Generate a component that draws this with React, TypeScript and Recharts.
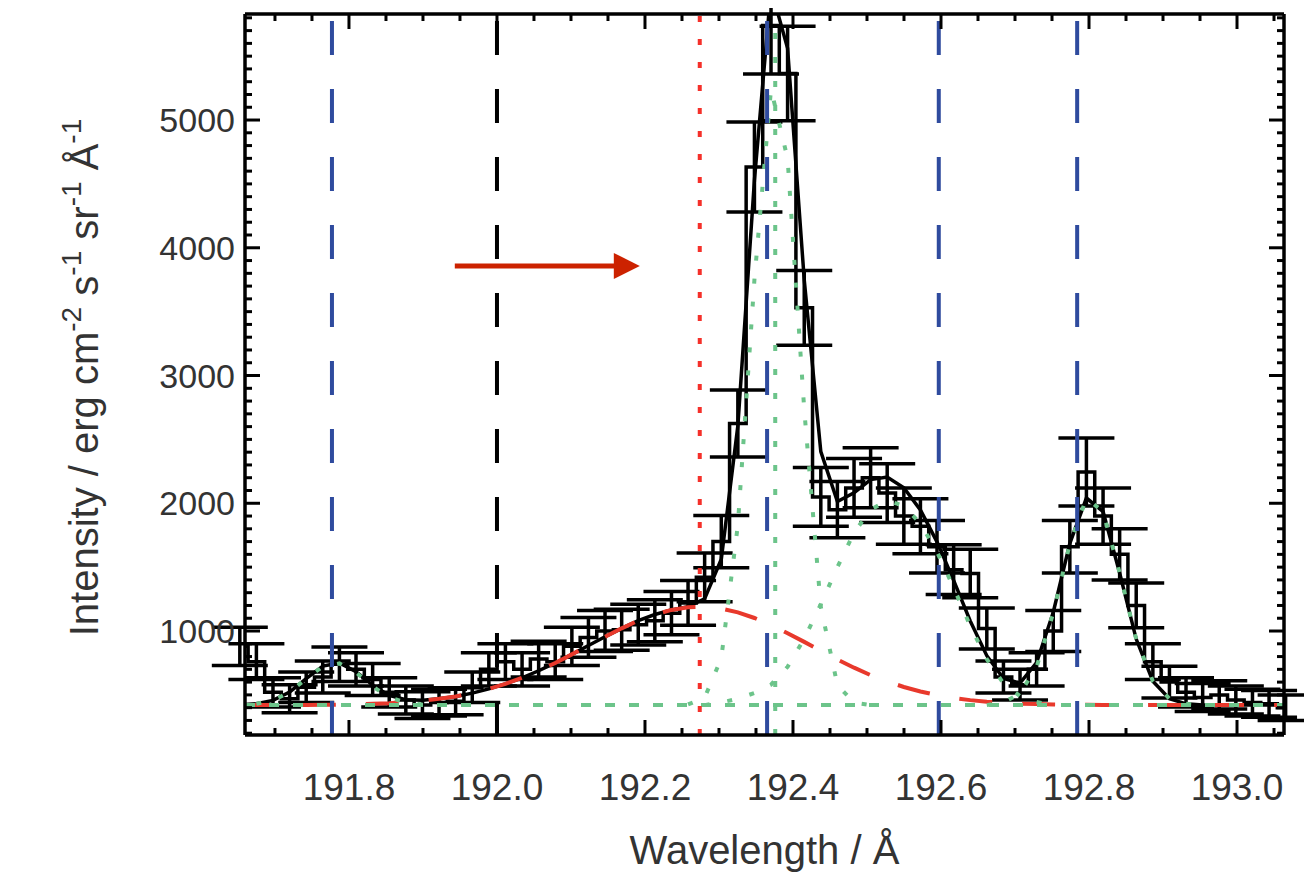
import React from "react";
import { ComposedChart, Line, XAxis, YAxis, ErrorBar, ReferenceLine } from "recharts";

// bin centres (Å)
const wavelength = [
  191.6525, 191.6749, 191.6973, 191.7198, 191.7422, 191.7646, 191.7871, 191.8095,
  191.832, 191.8544, 191.8768, 191.8993, 191.9217, 191.9441, 191.9666, 191.989,
  192.0114, 192.0339, 192.0563, 192.0787, 192.1012, 192.1236, 192.146, 192.1685,
  192.1909, 192.2133, 192.2358, 192.2582, 192.2806, 192.3031, 192.3255, 192.3479,
  192.3703, 192.3927, 192.4152, 192.4376, 192.46, 192.4825, 192.5049, 192.5273,
  192.5498, 192.5722, 192.5946, 192.6171, 192.6395, 192.6619, 192.6844, 192.7068,
  192.7292, 192.7517, 192.7741, 192.7965, 192.819, 192.8414, 192.8638, 192.8863,
  192.9087, 192.9311, 192.9536, 192.976, 192.9984, 193.0209, 193.0433, 193.0657,
];

const observed = [
  880, 760, 520, 470, 560, 640, 740, 700, 620, 520, 460, 420, 440, 450, 560, 700,
  760, 700, 780, 760, 880, 950, 1000, 1010, 1050, 1080, 1140, 1220, 1420, 1700, 2625, 4633,
  5740, 5365, 3530, 2050, 1950, 2120, 2200, 2080, 1900, 1820, 1660, 1480, 1450, 1020, 640, 580,
  700, 1000, 1660, 2245, 1900, 1600, 1200, 760, 600, 520, 480, 500, 460, 440, 430, 400,
];

const observedErr = [
  150, 140, 115, 110, 120, 125, 135, 130, 125, 115, 110, 105, 105, 105, 120, 130,
  140, 130, 140, 140, 150, 155, 160, 160, 160, 165, 170, 175, 190, 205, 262, 352,
  380, 370, 293, 230, 220, 230, 235, 230, 220, 215, 205, 195, 190, 160, 125, 120,
  130, 160, 205, 266, 220, 200, 175, 140, 125, 115, 110, 110, 110, 105, 105, 100,
];

const fitTotal = [
  422, 430, 457, 522, 627, 725, 750, 682, 576, 496, 462, 458, 469, 488, 514, 547,
  586, 634, 689, 750, 817, 886, 955, 1021, 1081, 1129, 1165, 1191, 1252, 1562, 2607, 4529,
  6029, 5561, 3748, 2404, 2014, 2082, 2185, 2205, 2122, 1947, 1698, 1396, 1079, 807, 628, 593,
  752, 1147, 1686, 2041, 1935, 1454, 937, 607, 470, 430, 420, 420, 420, 420, 420, 420,
];

const broadComp = [
  420, 420, 420, 420, 421, 422, 424, 426, 430, 435, 443, 454, 469, 488, 514, 547,
  586, 634, 689, 750, 817, 886, 955, 1021, 1081, 1129, 1165, 1186, 1189, 1176, 1146, 1102,
  1047, 983, 915, 845, 777, 713, 655, 605, 562, 527, 498, 476, 459, 447, 438, 432,
  428, 425, 423, 422, 421, 420, 420, 420, 420, 420, 420, 420, 420, 420, 420, 420,
];

const N = null;
const compA = [
  N, 430, 457, 522, 626, 723, 746, 676, 566, 481, 439, 424, N, N, N, N,
  N, N, N, N, N, N, N, N, N, N, N, N, N, N, N, N,
  N, N, N, N, N, N, N, N, N, N, N, N, N, N, N, N,
  N, N, N, N, N, N, N, N, N, N, N, N, N, N, N, N,
];
const compB = [
  N, N, N, N, N, N, N, N, N, N, N, N, N, N, N, N,
  N, N, N, N, N, N, N, N, N, N, N, 425, 478, 786, 1831, 3752,
  5242, 4698, 2733, 1189, 577, 439, 420, N, N, N, N, N, N, N, N, N,
  N, N, N, N, N, N, N, N, N, N, N, N, N, N, N, N,
];
const compC = [
  N, N, N, N, N, N, N, N, N, N, N, N, N, N, N, N,
  N, N, N, N, N, N, N, N, N, N, N, N, 420, 440, 470, 515,
  580, 720, 940, 1210, 1500, 1770, 1950, 2020, 1980, 1840, 1620, 1340, 1040, 780, 590, 490,
  445, 420, N, N, N, N, N, N, N, N, N, N, N, N, N, N,
];
const compD = [
  N, N, N, N, N, N, N, N, N, N, N, N, N, N, N, N,
  N, N, N, N, N, N, N, N, N, N, N, N, N, N, N, N,
  N, N, N, N, N, N, N, N, N, N, N, N, N, 420, 440, 511,
  719, 1142, 1683, 2039, 1934, 1454, 937, 607, 470, 430, 420, N, N, N, N, N,
];

const baselineLevel = 420;
const blueLines = [191.777, 192.365, 192.597, 192.784];
const blackLine = 192.0;
const redDottedLine = 192.274;
const greenDottedLine = 192.376;
const arrowFrom = { x: 191.943, y: 3858 };
const arrowTo = { x: 192.193, y: 3858 };

const xMajor = [191.8, 192.0, 192.2, 192.4, 192.6, 192.8, 193.0];
const xMinor = [191.7, 191.75, 191.85, 191.9, 191.95, 192.05, 192.1, 192.15, 192.25, 192.3, 192.35,
  192.45, 192.5, 192.55, 192.65, 192.7, 192.75, 192.85, 192.9, 192.95, 193.05];
const yMajor = [1000, 2000, 3000, 4000, 5000];
const yMinor = [200, 300, 400, 500, 600, 700, 800, 900, 1100, 1200, 1300, 1400, 1500, 1600, 1700, 1800, 1900,
  2100, 2200, 2300, 2400, 2500, 2600, 2700, 2800, 2900, 3100, 3200, 3300, 3400, 3500, 3600, 3700, 3800, 3900,
  4100, 4200, 4300, 4400, 4500, 4600, 4700, 4800, 4900, 5100, 5200, 5300, 5400, 5500, 5600, 5700, 5800];

const data = wavelength.map((w, i) => ({
  w,
  obs: observed[i],
  err: observedErr[i],
  fit: fitTotal[i],
  broad: broadComp[i],
  a: compA[i],
  b: compB[i],
  c: compC[i],
  d: compD[i],
}));

const FONT = "'Liberation Sans', Arial, sans-serif";
const TXT = "#333";
const BLUE = "#2f4b9e";
const GREEN = "#6cc48a";
const W = 1296;
const H = 866;
// plot box in chart coordinates (page minus 8px body margin)
const PL = 237, PT = 6, PR = 1276, PB = 727;

const xAll = [...xMajor, ...xMinor].sort((a, b) => a - b);
const yAll = [...yMajor, ...yMinor].sort((a, b) => a - b);

const BottomTick = ({ x, y, payload }: any) => {
  const major = xMajor.includes(payload.value);
  return (
    <g>
      <line x1={x} x2={x} y1={y} y2={y - (major ? 15 : 7)} stroke="#000" strokeWidth={3} />
      {major && (
        <text x={x} y={y + 52} textAnchor="middle" dominantBaseline="central" fontSize={37} fill={TXT} fontFamily={FONT}>
          {payload.value.toFixed(1)}
        </text>
      )}
    </g>
  );
};

const TopTick = ({ x, y, payload }: any) => {
  const major = xMajor.includes(payload.value);
  return <line x1={x} x2={x} y1={y} y2={y + (major ? 15 : 7)} stroke="#000" strokeWidth={3} />;
};

const LeftTick = ({ x, y, payload }: any) => {
  const major = yMajor.includes(payload.value);
  return (
    <g>
      <line x1={x} x2={x + (major ? 15 : 7)} y1={y} y2={y} stroke="#000" strokeWidth={3} />
      {major && (
        <text x={x - 10} y={y} textAnchor="end" dominantBaseline="central" fontSize={34} fill={TXT} fontFamily={FONT}>
          {payload.value}
        </text>
      )}
    </g>
  );
};

const RightTick = ({ x, y, payload }: any) => {
  const major = yMajor.includes(payload.value);
  return <line x1={x} x2={x - (major ? 15 : 7)} y1={y} y2={y} stroke="#000" strokeWidth={3} />;
};

const XTitle = () => (
  <text x={(PL + PR) / 2} y={842} textAnchor="middle" dominantBaseline="central" fontSize={40} fill={TXT} fontFamily={FONT}>
    Wavelength / Å
  </text>
);

const YTitle = () => (
  <text
    transform={`translate(90, ${(PT + PB) / 2 + 3}) rotate(-90)`}
    textAnchor="middle"
    fontSize={40}
    fill={TXT}
    fontFamily={FONT}
  >
    Intensity / erg cm<tspan dy={-17} fontSize={28}>-2</tspan>
    <tspan dy={17}> s</tspan><tspan dy={-17} fontSize={28}>-1</tspan>
    <tspan dy={17}> sr</tspan><tspan dy={-17} fontSize={28}>-1</tspan>
    <tspan dy={17}> Å</tspan><tspan dy={-17} fontSize={28}>-1</tspan>
  </text>
);

const ArrowShape = (p: any) => {
  const { x1, y1, x2, y2 } = p;
  return (
    <g>
      <line x1={x1} y1={y1} x2={x2 - 20} y2={y2} stroke="#cc2200" strokeWidth={5} />
      <polygon points={`${x2},${y2} ${x2 - 26},${y2 - 13} ${x2 - 26},${y2 + 13}`} fill="#cc2200" />
    </g>
  );
};

export default function App() {
  const xDomain: [number, number] = [191.6595, 193.0635];
  const yDomain: [number, number] = [186, 5830];
  const axisLine = { stroke: "#000", strokeWidth: 3.5 };
  return (
    <div style={{ width: W, height: H }}>
      <ComposedChart width={W} height={H} data={data} margin={{ top: 0, right: 10, bottom: 39, left: 117 }}>
        <XAxis
          dataKey="w"
          type="number"
          domain={xDomain}
          allowDataOverflow
          ticks={xAll}
          interval={0}
          tickSize={0}
          tickMargin={0}
          tick={<BottomTick />}
          axisLine={axisLine}
          height={100}
          label={{ content: () => <XTitle /> }}
        />
        <XAxis
          xAxisId="top"
          orientation="top"
          dataKey="w"
          type="number"
          domain={xDomain}
          allowDataOverflow
          ticks={xAll}
          interval={0}
          tickSize={0}
          tickMargin={0}
          tick={<TopTick />}
          axisLine={axisLine}
          height={6}
        />
        <YAxis
          type="number"
          domain={yDomain}
          allowDataOverflow
          ticks={yAll}
          interval={0}
          tickSize={0}
          tickMargin={0}
          tick={<LeftTick />}
          axisLine={axisLine}
          width={120}
          label={{ content: () => <YTitle /> }}
        />
        <YAxis
          yAxisId="right"
          orientation="right"
          type="number"
          domain={yDomain}
          allowDataOverflow
          ticks={yAll}
          interval={0}
          tickSize={0}
          tickMargin={0}
          tick={<RightTick />}
          axisLine={axisLine}
          width={10}
        />

        <Line type="step" dataKey="obs" stroke="#000" strokeWidth={3.5} dot={false} isAnimationActive={false}>
          <ErrorBar dataKey="err" direction="y" width={28} stroke="#000" strokeWidth={3.5} />
        </Line>
        <Line type="linear" dataKey="fit" stroke="#000" strokeWidth={3.5} dot={false} isAnimationActive={false} />
        <Line type="linear" dataKey="broad" stroke="#e8392c" strokeWidth={4} strokeDasharray="33 30" dot={false} isAnimationActive={false} />
        <Line type="linear" dataKey="a" stroke={GREEN} strokeWidth={4} strokeDasharray="5 18" dot={false} isAnimationActive={false} />
        <Line type="linear" dataKey="b" stroke={GREEN} strokeWidth={4} strokeDasharray="5 18" dot={false} isAnimationActive={false} />
        <Line type="linear" dataKey="c" stroke={GREEN} strokeWidth={4} strokeDasharray="5 18" dot={false} isAnimationActive={false} />
        <Line type="linear" dataKey="d" stroke={GREEN} strokeWidth={4} strokeDasharray="5 18" dot={false} isAnimationActive={false} />

        <ReferenceLine y={baselineLevel} stroke={GREEN} strokeWidth={4} strokeDasharray="10 14" />
        {blueLines.map((v) => (
          <ReferenceLine key={v} x={v} stroke={BLUE} strokeWidth={4} strokeDasharray="34 34" />
        ))}
        <ReferenceLine x={blackLine} stroke="#000" strokeWidth={4} strokeDasharray="34 34" />
        <ReferenceLine x={redDottedLine} stroke="#f5302a" strokeWidth={4} strokeDasharray="6 17" />
        <ReferenceLine x={greenDottedLine} stroke={GREEN} strokeWidth={4} strokeDasharray="6 18" />
        <ReferenceLine segment={[arrowFrom, arrowTo]} shape={<ArrowShape />} />
      </ComposedChart>
    </div>
  );
}
